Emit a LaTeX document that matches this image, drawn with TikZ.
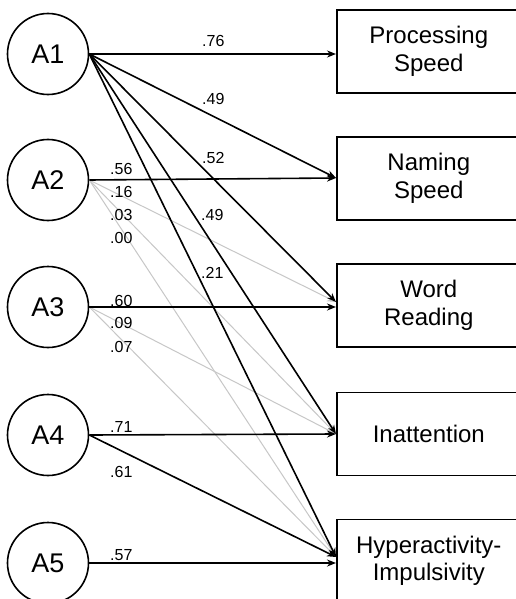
\documentclass[tikz,border=0pt]{standalone}
\usepackage{fontspec}
\setmainfont{Liberation Sans}
\usetikzlibrary{arrows.meta}
\begin{document}
\begin{tikzpicture}[x=1pt,y=-1pt,
  lat/.style={circle,draw=black,line width=1.6pt,minimum size=81pt,inner sep=0pt,font=\fontsize{27}{30}\selectfont},
  obs/.style={rectangle,draw=black,line width=1.6pt,minimum width=184pt,minimum height=83pt,inner sep=0pt,align=center,font=\fontsize{24}{27.5}\selectfont},
  pth/.style={line width=1.6pt,draw=black,-{Stealth[length=9pt,width=7pt]}},
  weak/.style={line width=1pt,draw=black!22,-{Stealth[length=9pt,width=7pt]}},
  lbl/.style={inner sep=0pt,anchor=base west,font=\fontsize{16}{18}\selectfont}]
\useasboundingbox (0,0) rectangle (516,599);
\clip (0,0) rectangle (516,599);
\fill[white] (0,0) rectangle (516,599);
% latent circles
\node[lat] (A1) at (48,54) {A1};
\node[lat] (A2) at (48,180) {A2};
\node[lat] (A3) at (48,307) {A3};
\node[lat] (A4) at (48,435) {A4};
\node[lat] (A5) at (48,563) {A5};
% observed boxes
\node[obs,anchor=west] (PS) at (336,51.5) {Processing\\Speed};
\node[obs,anchor=west] (NS) at (336,178.5) {Naming\\Speed};
\node[obs,anchor=west] (WR) at (336,305.5) {Word\\Reading};
\node[obs,anchor=west] (IN) at (336,434) {Inattention};
\node[obs,anchor=west] (HI) at (336,561) {Hyperactivity-\\Impulsivity};
% arrow end points
\coordinate (psA) at (336,54);
\coordinate (nsA) at (336,178);
\coordinate (wrD) at (336,302);
\coordinate (wrH) at (336,307);
\coordinate (inA) at (336,434);
\coordinate (hiD) at (336,557);
\coordinate (hiH) at (336,563);
% weak paths (gray)
\draw[weak] (A2.east) -- (wrD);
\draw[weak] (A2.east) -- (inA);
\draw[weak] (A2.east) -- (hiD);
\draw[weak] (A3.east) -- (inA);
\draw[weak] (A3.east) -- (hiD);
% strong paths
\draw[pth] (A1.east) -- (psA);
\draw[pth] (A1.east) -- (nsA);
\draw[pth] (A1.east) -- (wrD);
\draw[pth] (A1.east) -- (inA);
\draw[pth] (A1.east) -- (hiD);
\draw[pth] (A2.east) -- (nsA);
\draw[pth] (A3.east) -- (wrH);
\draw[pth] (A4.east) -- (inA);
\draw[pth] (A4.east) -- (hiD);
\draw[pth] (A5.east) -- (hiH);
% labels
\node[lbl] (l1) at (202,47) {.76};
\node[lbl] (l2) at (202,105) {.49};
\node[lbl] (l3) at (202,163) {.52};
\node[lbl] (l4) at (201,220) {.49};
\node[lbl] (l5) at (201,278) {.21};
\node[lbl] (l6) at (110,174) {.56};
\node[lbl] (l7) at (110,197) {.16};
\node[lbl] (l8) at (110,220) {.03};
\node[lbl] (l9) at (110,243) {.00};
\node[lbl] (l10) at (110,306) {.60};
\node[lbl] (l11) at (110,328) {.09};
\node[lbl] (l12) at (110,352) {.07};
\node[lbl] (l13) at (110,432) {.71};
\node[lbl] (l14) at (110,477) {.61};
\node[lbl] (l15) at (110,560) {.57};
\end{tikzpicture}
\end{document}
